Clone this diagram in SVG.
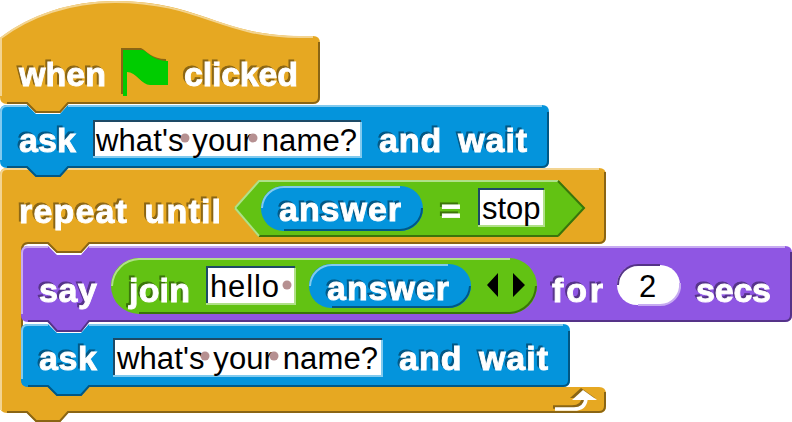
<svg xmlns="http://www.w3.org/2000/svg" width="792" height="422" viewBox="0 0 792 422">
<style>
.c{fill:#e6a822}.s{fill:#0494dc}.l{fill:#8f56e3}.o{fill:#62c213}
.e{fill:none;stroke-width:2}
.ch{stroke:#f3d491}.cs{stroke:#8a6514}.sh{stroke:#82caee}.ss{stroke:#025784}.lh{stroke:#c7abf1}.ls{stroke:#553388}.oh{stroke:#b0e089}.os{stroke:#3a740b}
.t{font:bold 34px "Liberation Sans",Arial,sans-serif;fill:#fff;stroke:#fff;stroke-width:.9px;word-spacing:6px}
.tc{filter:drop-shadow(-2px -2px 0 #8a6514)}.ts{filter:drop-shadow(-2px -2px 0 #025784)}.tl{filter:drop-shadow(-2px -2px 0 #553388)}.to{filter:drop-shadow(-2px -2px 0 #3a740b)}
.i{font:31px "Liberation Sans",Arial,sans-serif;fill:#000}
.b{fill:#fff}.bd{fill:none;stroke:#1d4a66;stroke-width:2}.dot{fill:#b69091}
</style>
<g id="connectors"></g>
<g id="repeat-block">
<path class="c" d="M7,168H599Q606,168 606,175V237Q606,244 599,244H89L81,253H57L48,244H28Q21,244 21,251V380Q21,387 28,387H599Q606,387 606,394V406Q606,413 599,413H68L60,422H36L27,413H7Q0,413 0,406V175Q0,168 7,168Z"/>
<path class="e ch" d="M1,410V175Q1,169 7,169H599"/>
<path class="e cs" d="M605,172V237Q605,243 599,243H89L81,252H57L48,243H28Q22,243 22,250V380Q22,386 28,386H68M605,392V406Q605,412 599,412H68L60,421H36L27,412H7"/>
<text class="t tc" x="19" y="223" textLength="202">repeat until</text>
<g id="return-arrow" class="tc"><path d="M555,409H574Q585,409 586,399" fill="none" stroke="#fff" stroke-width="3.5"/><path d="M583,390L597,400H572Z" fill="#fff"/></g>
</g>
<g id="predicate">
<path class="o" d="M259,180H558L585,208L558,237H259L234,208Z"/>
<path class="e oh" d="M235,208L259,181H558"/><path class="e os" d="M558,236L584,208L558,181M558,236H259"/>
<path class="e oh" d="M235,208L259,236"/>
</g>
<g id="answer-1">
<rect class="s" x="261" y="186" width="162" height="45" rx="22.5"/>
<path class="e sh" d="M262,208A22,22 0 0 1 284,187H400"/><path class="e ss" d="M422,208A22,22 0 0 1 400,230H284"/>
<text class="t ts" x="279" y="221" textLength="122">answer</text>
</g>
<text id="equals" class="t to" x="441" y="223">=</text>
<g id="stop-input">
<rect class="b" x="478" y="188" width="66" height="38"/><path class="bd" d="M479,226V189H544"/>
<path class="e oh" d="M478,226H544V190"/>
<text class="i" x="482" y="219">stop</text>
</g>
<g id="hat-block">
<path class="c" d="M0,44V38C30,15 70,1 115,1C200,1 220,36 300,36H313Q320,36 320,43V97Q320,104 313,104H68L60,113H36L27,104H7Q0,104 0,97Z"/>
<path class="e ch" d="M1,96V38C30,16 70,2 115,2C200,2 220,37 300,37H313"/>
<path class="e cs" d="M319,42V97Q319,103 313,103H68L60,112H36L27,103H7"/>
<text class="t tc" x="19" y="86" textLength="87">when</text>
<path class="tc" fill="#00cc00" d="M123,50H143C150,54 154,61 168,61V85H150C142,85 136,72 127,72V96H123Z"/>
<text class="t tc" x="184" y="86" textLength="114">clicked</text>
</g>
<g id="ask-block-1">
<path class="s" d="M7,105H27L36,114H60L68,105H542Q549,105 549,112V161Q549,168 542,168H68L60,177H36L27,168H7Q0,168 0,161V112Q0,105 7,105Z"/>
<path class="e sh" d="M1,160V112Q1,106 7,106H27M68,106H542"/>
<path class="e ss" d="M548,112V161Q548,167 542,167H68L60,176H36L27,167H7"/>
<text class="t ts" x="19" y="152" textLength="57">ask</text>
<rect class="b" x="93" y="120" width="268" height="37"/><path class="bd" d="M94,157V121H361"/><path class="e sh" d="M93,157H361V122"/>
<text class="i" x="96" y="151" xml:space="preserve" textLength="261">what's your name?</text>
<circle class="dot" cx="185" cy="138" r="4.5"/><circle class="dot" cx="253" cy="138" r="4.5"/>
<text class="t ts" x="379" y="152" textLength="148">and wait</text>
</g>
<g id="say-block">
<path class="l" d="M28,246H48L57,255H81L89,246H785Q792,246 792,253V315Q792,322 785,322H89L81,332H57L48,322H28Q21,322 21,315V253Q21,246 28,246Z"/>
<path class="e lh" d="M22,314V253Q22,247 28,247H48M89,247H785"/>
<path class="e ls" d="M791,252V315Q791,321 785,321H89L81,331H57L48,321H28"/>
<text class="t tl" x="39" y="302" textLength="58">say</text>
<text class="t tl" x="552" y="302" textLength="51">for</text>
<g id="slot-2">
<rect class="b" x="617" y="265" width="63" height="40" rx="20"/>
<path fill="none" stroke="#553388" stroke-width="2" d="M618,285A20,20 0 0 1 638,265H660"/>
<path class="e lh" d="M680,283A20,20 0 0 1 660,305H638"/>
<text class="i" x="639" y="297">2</text>
</g>
<text class="t tl" x="696" y="302" textLength="75">secs</text>
</g>
<g id="join-block">
<rect class="o" x="111" y="258" width="426" height="56" rx="28"/>
<path class="e oh" d="M112,286A28,28 0 0 1 139,259H510"/><path class="e os" d="M536,286A28,28 0 0 1 510,313H139"/>
<text class="t to" x="129" y="302" textLength="61">join</text>
<rect class="b" x="206" y="266" width="89" height="38"/><path class="bd" d="M207,304V267H295"/><path class="e oh" d="M206,304H295V268"/>
<text class="i" x="210" y="297" textLength="69">hello</text><circle class="dot" cx="287" cy="285" r="4.5"/>
<path d="M498,273V297L487,285Z M513,273V297L525,285Z" fill="#000"/>
</g>
<g id="answer-2">
<rect class="s" x="309" y="264" width="162" height="44" rx="22"/>
<path class="e sh" d="M310,286A22,22 0 0 1 332,265H448"/><path class="e ss" d="M470,286A22,22 0 0 1 448,307H332"/>
<text class="t ts" x="327" y="300" textLength="122">answer</text>
</g>
<g id="ask-block-2">
<path class="s" d="M28,324H48L57,333H81L89,324H563Q570,324 570,331V380Q570,387 563,387H89L81,396H57L48,387H28Q21,387 21,380V331Q21,324 28,324Z"/>
<path class="e sh" d="M22,379V331Q22,325 28,325H48M89,325H563"/>
<path class="e ss" d="M569,331V380Q569,386 563,386H89L81,395H57L48,386H28"/>
<text class="t ts" x="39" y="370" textLength="58">ask</text>
<rect class="b" x="113" y="338" width="269" height="38"/><path class="bd" d="M114,376V339H382"/><path class="e sh" d="M113,376H382V340"/>
<text class="i" x="117" y="369" xml:space="preserve" textLength="261">what's your name?</text>
<circle class="dot" cx="205" cy="356" r="4.5"/><circle class="dot" cx="274" cy="356" r="4.5"/>
<text class="t ts" x="399" y="370" textLength="149">and wait</text>
</g>
</svg>
